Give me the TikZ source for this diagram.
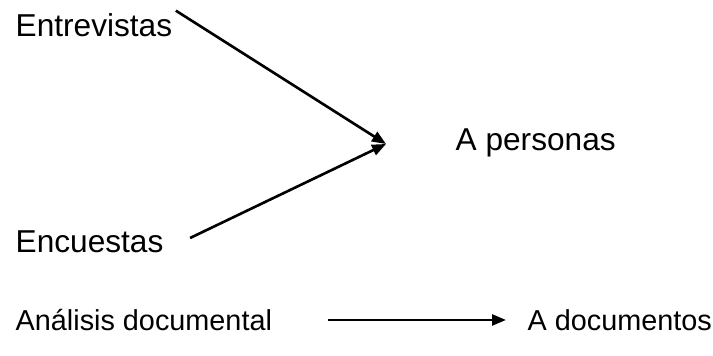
\documentclass[tikz,border=0pt]{standalone}
\usepackage{fontspec}
\setmainfont{Liberation Sans}
\usetikzlibrary{arrows.meta, positioning}

\begin{document}
\begin{tikzpicture}[
  label/.style={inner sep=0pt, anchor=west, font=\fontsize{9}{11}\selectfont},
  small label/.style={label, font=\fontsize{8.2}{10}\selectfont},
  arrow/.style={-{Triangle[length=0.14cm, width=0.11cm]}, line width=0.75pt}
]
  \useasboundingbox (0,0) rectangle (7.13,3.56);
  \node[label] (ent) at (0.15,3.31) {Entrevistas};
  \node[label] (enc) at (0.15,1.14) {Encuestas};
  \node[small label] (ana) at (0.15,0.36) {Análisis documental};
  \node[label] (per) at (4.55,2.13) {A personas};
  \node[small label] (doc) at (5.27,0.36) {A documentos};
  \coordinate (meet) at (3.86,2.12);

  \draw[arrow] ([xshift=0.03cm, yshift=0.02cm]ent.north east) -- (meet);
  \draw[arrow] ([xshift=0.26cm, yshift=0.04cm]enc.east) -- (meet);
  \draw[arrow] ([xshift=0.55cm]ana.east) -- ([xshift=-0.21cm]doc.west);
\end{tikzpicture}
\end{document}
